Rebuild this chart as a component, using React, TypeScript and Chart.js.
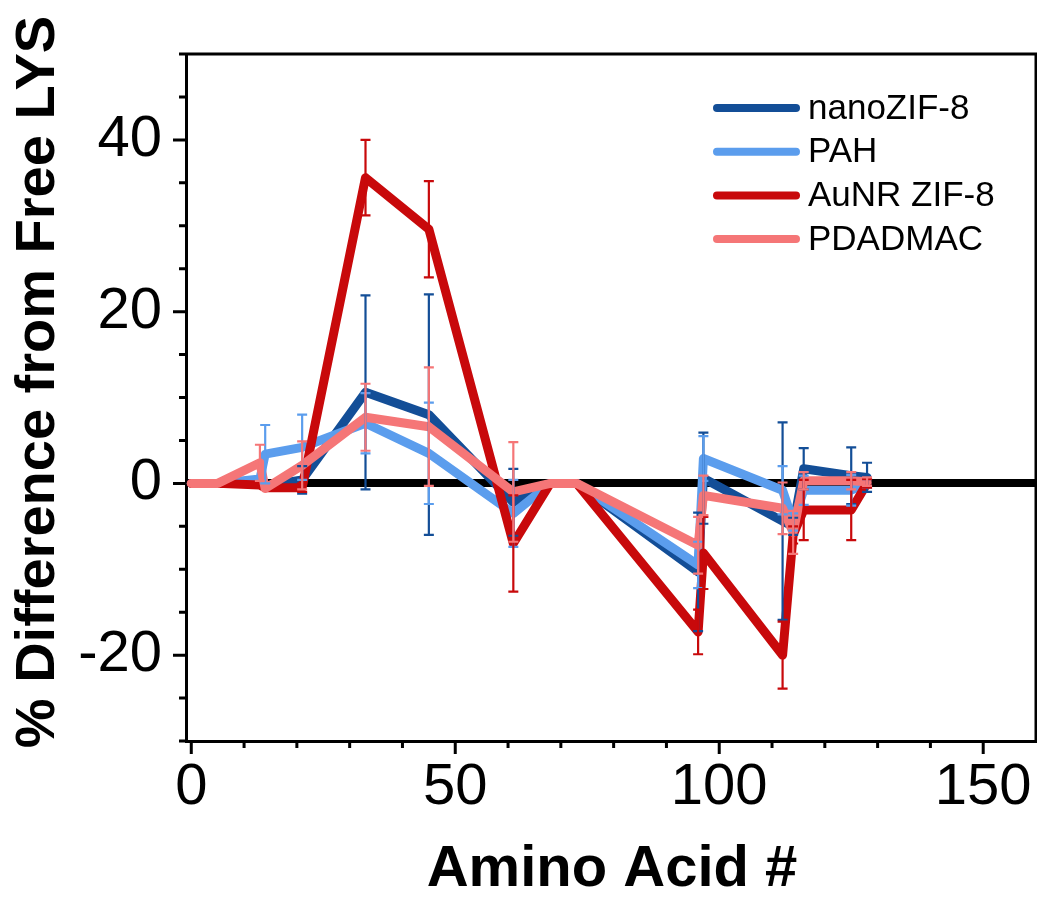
import React, { useEffect, useRef } from 'react';
import { Chart, registerables } from 'chart.js';

Chart.register(...registerables);

const FONT = "'Liberation Sans', Arial, Helvetica, sans-serif";

// Amino acid positions (x)
const aminoAcids = [0, 5, 13, 14, 21, 33, 45, 61, 68, 73, 96, 97, 112, 114, 116, 125, 128];

// % difference from free LYS (y) and error bars
const nanoZIF8 = [0, 0, 0.3, -0.3, 0.4, 10.6, 8.0, -2.2, 0, 0, -10.3, 0.6, -4.4, -5.0, 1.7, 0.9, 0.7];
const nanoZIF8Err = [0, 0, 0, 0, 1.6, 11.3, 14.0, 3.9, 0, 0, 6.9, 5.3, 11.5, 1.0, 2.4, 3.3, 1.7];

const pah = [0, 0, 0.5, 3.4, 4.2, 7.0, 3.5, -3.5, 0, 0, -9.5, 2.9, -0.8, -4.5, -0.8, -0.8, 0];
const pahErr = [0, 0, 0, 3.4, 3.8, 3.5, 5.9, 3.9, 0, 0, 2.7, 2.6, 2.8, 1.0, 1.7, 1.8, 0.5];

const aunrZIF8 = [0, 0, -0.2, -0.5, -0.5, 35.6, 29.6, -7.0, 0, 0, -17.3, -8.1, -20.0, -6.0, -3.1, -3.1, 0];
const aunrZIF8Err = [0, 0, 0, 0, 0.5, 4.4, 5.6, 5.6, 0, 0, 2.6, 4.2, 3.9, 1.0, 3.5, 3.5, 0.5];

const pdadmac = [0, 0, 2.4, -0.6, 2.1, 7.7, 6.6, -1.0, 0, 0, -7.2, -1.4, -2.9, -5.7, 0.3, 0.3, 0.2];
const pdadmacErr = [0, 0, 2.1, 0, 2.8, 3.9, 6.9, 5.8, 0, 0, 3.3, 2.3, 3.0, 2.5, 1.0, 1.0, 0.5];

const seriesLabels = ['nanoZIF-8', 'PAH', 'AuNR ZIF-8', 'PDADMAC'];

// Tick values
const xMajorTicks = [0, 50, 100, 150];
const xMinorTicks = [10, 20, 30, 40, 60, 70, 80, 90, 110, 120, 130, 140];
const yMajorTicks = [-20, 0, 20, 40];
const yMinorTicks = [-30, -25, -15, -10, -5, 5, 10, 15, 25, 30, 35, 45, 50];

const xTitle = 'Amino Acid #';
const yTitle = '% Difference from Free LYS';

const toPoints = (vals: number[]) => aminoAcids.map((x, i) => ({ x, y: vals[i] }));

const errorBarPlugin = {
  id: 'errorBars',
  afterDatasetsDraw(chart: any) {
    const ctx = chart.ctx;
    const yScale = chart.scales.y;
    ctx.save();
    chart.data.datasets.forEach((ds: any, i: number) => {
      const meta = chart.getDatasetMeta(i);
      const errs: number[] = ds.errors || [];
      ctx.strokeStyle = ds.borderColor;
      ctx.lineWidth = 2.2;
      ctx.lineCap = 'butt';
      meta.data.forEach((pt: any, j: number) => {
        const e = errs[j];
        if (!e) return;
        const v = ds.data[j].y;
        const top = yScale.getPixelForValue(v + e);
        const bot = yScale.getPixelForValue(v - e);
        ctx.beginPath();
        ctx.moveTo(pt.x, top);
        ctx.lineTo(pt.x, bot);
        ctx.moveTo(pt.x - 5, top);
        ctx.lineTo(pt.x + 5, top);
        ctx.moveTo(pt.x - 5, bot);
        ctx.lineTo(pt.x + 5, bot);
        ctx.stroke();
      });
    });
    ctx.restore();
  },
};

const frameTicksPlugin = {
  id: 'frameTicks',
  afterDraw(chart: any) {
    const { ctx, chartArea: a, scales } = chart;
    const xs = scales.x;
    const ys = scales.y;
    ctx.save();
    ctx.strokeStyle = '#000';
    ctx.lineWidth = 3;
    ctx.lineCap = 'butt';
    ctx.beginPath();
    ctx.moveTo(a.left - 1.5, a.top);
    ctx.lineTo(a.right, a.top);
    ctx.moveTo(a.right, a.top - 1.5);
    ctx.lineTo(a.right, a.bottom);
    xMajorTicks.forEach((v) => {
      const p = xs.getPixelForValue(v);
      ctx.moveTo(p, a.bottom);
      ctx.lineTo(p, a.bottom + 13);
    });
    xMinorTicks.forEach((v) => {
      const p = xs.getPixelForValue(v);
      ctx.moveTo(p, a.bottom);
      ctx.lineTo(p, a.bottom + 7);
    });
    yMajorTicks.forEach((v) => {
      const p = ys.getPixelForValue(v);
      ctx.moveTo(a.left, p);
      ctx.lineTo(a.left - 13, p);
    });
    yMinorTicks.forEach((v) => {
      const p = ys.getPixelForValue(v);
      ctx.moveTo(a.left, p);
      ctx.lineTo(a.left - 7, p);
    });
    ctx.stroke();

    // axis titles
    ctx.fillStyle = '#000';
    ctx.font = `bold 58px ${FONT}`;
    ctx.textAlign = 'center';
    ctx.textBaseline = 'middle';
    ctx.fillText(xTitle, 612, 870);
    ctx.save();
    ctx.translate(39, 382);
    ctx.rotate(-Math.PI / 2);
    ctx.font = `bold 56px ${FONT}`;
    ctx.fillText(yTitle, 0, 0);
    ctx.restore();

    // legend
    chart.data.datasets.forEach((ds: any, i: number) => {
      const yy = 108 + i * 43.7;
      ctx.strokeStyle = ds.borderColor;
      ctx.lineWidth = 8;
      ctx.lineCap = 'round';
      ctx.beginPath();
      ctx.moveTo(717, yy);
      ctx.lineTo(796, yy);
      ctx.stroke();
      ctx.fillStyle = '#000';
      ctx.font = `35px ${FONT}`;
      ctx.textAlign = 'left';
      ctx.textBaseline = 'middle';
      ctx.fillText(ds.label, 808, yy + 1);
    });
    ctx.restore();
  },
};

export default function App() {
  const ref = useRef<HTMLCanvasElement>(null);

  useEffect(() => {
    document.body.style.margin = '0';
    const canvas = ref.current;
    if (!canvas) return;

    const mk = (label: string, vals: number[], errs: number[], color: string, order: number) => ({
      label,
      data: toPoints(vals),
      errors: errs,
      borderColor: color,
      backgroundColor: color,
      borderWidth: 9,
      borderCapStyle: 'round',
      borderJoinStyle: 'round',
      pointRadius: 0,
      tension: 0,
      fill: false,
      order,
    });

    const chart = new Chart(canvas, {
      type: 'line',
      data: {
        datasets: [
          mk(seriesLabels[0], nanoZIF8, nanoZIF8Err, '#134e97', 3),
          mk(seriesLabels[1], pah, pahErr, '#5b9ded', 2),
          mk(seriesLabels[2], aunrZIF8, aunrZIF8Err, '#c8090b', 1),
          mk(seriesLabels[3], pdadmac, pdadmacErr, '#f57677', 0),
        ] as any,
      },
      options: {
        animation: false,
        responsive: false,
        maintainAspectRatio: false,
        layout: { padding: { top: 54, right: 1, left: 0, bottom: 0 } },
        plugins: {
          legend: { display: false },
          tooltip: { enabled: false },
          title: { display: false },
        },
        scales: {
          x: {
            type: 'linear',
            min: -1,
            max: 160,
            afterBuildTicks: (s: any) => {
              s.ticks = xMajorTicks.map((v) => ({ value: v }));
            },
            afterFit: (s: any) => {
              s.height = 156;
              s.paddingLeft = 0;
              s.paddingRight = 0;
            },
            grid: { display: false, drawTicks: false },
            border: { display: true, color: '#000', width: 3 },
            ticks: {
              autoSkip: false,
              maxRotation: 0,
              minRotation: 0,
              padding: 12,
              color: '#000',
              font: { family: FONT, size: 58 },
              callback: (v: any) => String(v),
            },
          },
          y: {
            type: 'linear',
            min: -30,
            max: 50,
            afterBuildTicks: (s: any) => {
              s.ticks = yMajorTicks.map((v) => ({ value: v }));
            },
            afterFit: (s: any) => {
              s.width = 186;
              s.paddingTop = 0;
              s.paddingBottom = 0;
            },
            grid: {
              display: true,
              drawTicks: false,
              drawOnChartArea: true,
              color: (c: any) => (c.tick && c.tick.value === 0 ? '#000' : 'rgba(0,0,0,0)'),
              lineWidth: (c: any) => (c.tick && c.tick.value === 0 ? 8 : 0),
            },
            border: { display: true, color: '#000', width: 3 },
            ticks: {
              autoSkip: false,
              padding: 24,
              color: '#000',
              font: { family: FONT, size: 58 },
              callback: (v: any) => String(v),
            },
          },
        },
      } as any,
      plugins: [errorBarPlugin, frameTicksPlugin],
    });

    return () => chart.destroy();
  }, []);

  return (
    <div style={{ width: 1037, height: 897 }}>
      <canvas ref={ref} width={1037} height={897} style={{ display: 'block', width: 1037, height: 897 }} />
    </div>
  );
}
